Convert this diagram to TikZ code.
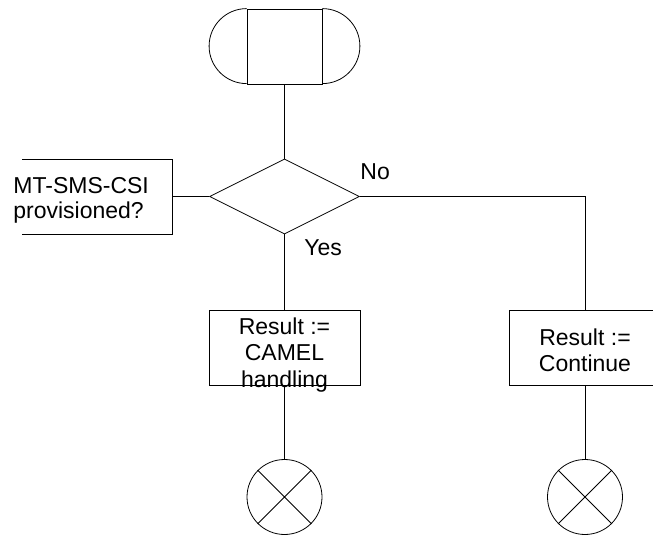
\documentclass[tikz,border=0pt]{standalone}
\usepackage{fontspec}
\setmainfont{Liberation Sans}
\usetikzlibrary{shapes.geometric}
\begin{document}
\begin{tikzpicture}[x=1pt,y=-1pt, line width=0.8pt,
  txt/.style={font=\fontsize{23}{26}\selectfont, inner sep=0pt, anchor=base},
  txtl/.style={txt, anchor=base west},
  resbox/.style={draw, rectangle, minimum width=151pt, minimum height=75pt, inner sep=0pt},
  endx/.style={draw, circle, minimum size=75pt, inner sep=0pt}]
\useasboundingbox (0,0) rectangle (653,537);
% start terminal
\node (term) [draw, rectangle, minimum width=75pt, minimum height=75pt, inner sep=0pt] at (284.5,46.5) {};
\draw (term.north west) arc[start angle=90, delta angle=180, radius=37.5pt];
\draw (term.north east) arc[start angle=90, delta angle=-180, radius=37.5pt];
% decision
\node (dec) [draw, diamond, aspect=2, minimum width=150pt, minimum height=75pt, inner sep=0pt] at (284.5,196.5) {};
% comment
\draw (22,159.5) -- (172,159.5) -- (172,234) -- (22,234);
\coordinate (cmtR) at (172,196.5);
\node[txtl] (cm1) at (13,193.5) {MT-SMS-CSI};
\node[txtl] (cm2) at (13,219) {provisioned?};
% labels
\node[txtl] (no) at (360,180) {No};
\node[txtl] (yes) at (304,256) {Yes};
% result boxes
\node (r1) [resbox] at (284.5,347.5) {};
\node (r2) [resbox] at (585,347.5) {};
\node[txt] (r1a) at (284.5,334) {Result :=};
\node[txt] (r1b) at (284.5,360.5) {CAMEL};
\node[txt] (r1c) at (284.5,387) {handling};
\node[txt] (r2a) at (585,345) {Result :=};
\node[txt] (r2b) at (585,371) {Continue};
% end symbols
\node (x1) [endx] at (284.5,497) {};
\node (x2) [endx] at (585,497) {};
\draw (x1.north west) -- (x1.south east) (x1.north east) -- (x1.south west);
\draw (x2.north west) -- (x2.south east) (x2.north east) -- (x2.south west);
% connectors
\draw (term.south) -- (dec.north);
\draw (cmtR) -- (dec.west);
\draw (dec.east) -| (r2.north);
\draw (dec.south) -- (r1.north);
\draw (r1.south) -- (x1.north);
\draw (r2.south) -- (x2.north);
\end{tikzpicture}
\end{document}
